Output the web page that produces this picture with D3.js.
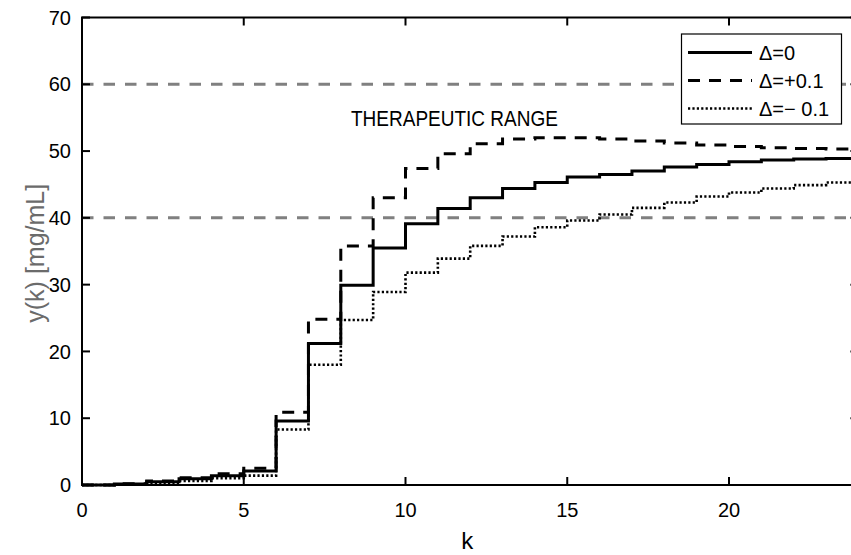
<!DOCTYPE html>
<html lang="en">
  <head>
    <meta charset="UTF-8" />
    <title>y(k) therapeutic range</title>
    <style>
      html, body { margin: 0; padding: 0; background: #fff; }
      svg { display: block; font-family: "Liberation Sans", Arial, sans-serif; }
    </style>
  </head>
  <body>
    <div id="chart"></div>
    <script src="https://d3js.org/d3.v7.min.js"></script>
    <script>
      // step values y(k), k = 0..23 (each held until k+1)
      const yNominal = [0, 0.15, 0.5, 0.95, 1.4, 2.1, 9.6, 21.2, 29.9, 35.5, 39.1, 41.4, 43.0, 44.4,
                        45.3, 46.1, 46.5, 47.0, 47.6, 48.0, 48.4, 48.65, 48.8, 48.9];
      const yPlus = [0, 0.2, 0.6, 1.1, 1.7, 2.5, 10.9, 24.8, 35.8, 43.0, 47.4, 49.6, 51.1, 51.8,
                     52.0, 52.0, 51.8, 51.5, 51.2, 50.9, 50.7, 50.5, 50.4, 50.3];
      const yMinus = [0, 0.1, 0.3, 0.6, 1.0, 1.4, 8.3, 18.0, 24.7, 28.9, 31.8, 33.9, 35.8, 37.2,
                      38.6, 39.6, 40.5, 41.5, 42.3, 43.2, 43.8, 44.4, 44.9, 45.3];
      const seriesNames = ["\u0394=0", "\u0394=+0.1", "\u0394=\u2212 0.1"];
      const rangeLimits = [40, 60];
      const xTicks = [0, 5, 10, 15, 20];
      const yTicks = [0, 10, 20, 30, 40, 50, 60, 70];

      const width = 851, height = 555;
      const pLeft = 82, pTop = 17.5, pRight = 858.4, pBottom = 485;

      const x = d3.scaleLinear().domain([0, 24]).range([pLeft, pRight]);
      const y = d3.scaleLinear().domain([0, 70]).range([pBottom, pTop]);

      const svg = d3.select("#chart").append("svg")
        .attr("width", width)
        .attr("height", height);

      // therapeutic range limits
      svg.selectAll("line.limit")
        .data(rangeLimits)
        .join("line")
        .attr("class", "limit")
        .attr("x1", pLeft).attr("x2", pRight)
        .attr("y1", d => y(d)).attr("y2", d => y(d))
        .attr("stroke", "#808080")
        .attr("stroke-width", 3)
        .attr("stroke-dasharray", "11.5,10");

      const stairs = d3.line()
        .x(d => x(d[0]))
        .y(d => y(d[1]))
        .curve(d3.curveStepAfter);

      const toPoints = vals => {
        const pts = vals.map((v, k) => [k, v]);
        pts.push([24, vals[vals.length - 1]]);
        return pts;
      };

      const series = [
        { name: seriesNames[0], values: yNominal, dash: null, w: 3 },
        { name: seriesNames[1], values: yPlus, dash: "12,9", w: 3 },
        { name: seriesNames[2], values: yMinus, dash: "2.2,2.2", w: 2.6 }
      ];

      svg.append("g")
        .selectAll("path")
        .data(series)
        .join("path")
        .attr("fill", "none")
        .attr("stroke", "#000")
        .attr("stroke-width", d => d.w)
        .attr("stroke-dasharray", d => d.dash)
        .attr("d", d => stairs(toPoints(d.values)));

      // axes box with inward ticks
      const tickLen = 8;
      const axisG = svg.append("g").attr("stroke", "#000").attr("stroke-width", 2);
      axisG.append("rect")
        .attr("x", pLeft).attr("y", pTop)
        .attr("width", pRight - pLeft).attr("height", pBottom - pTop)
        .attr("fill", "none");
      xTicks.forEach(t => {
        axisG.append("line").attr("x1", x(t)).attr("x2", x(t)).attr("y1", pBottom).attr("y2", pBottom - tickLen);
        axisG.append("line").attr("x1", x(t)).attr("x2", x(t)).attr("y1", pTop).attr("y2", pTop + tickLen);
      });
      yTicks.forEach(t => {
        axisG.append("line").attr("x1", pLeft).attr("x2", pLeft + tickLen).attr("y1", y(t)).attr("y2", y(t));
        axisG.append("line").attr("x1", pRight).attr("x2", pRight - tickLen).attr("y1", y(t)).attr("y2", y(t));
      });

      svg.append("g")
        .selectAll("text")
        .data(xTicks)
        .join("text")
        .attr("x", d => x(d))
        .attr("y", 510)
        .attr("dy", "0.36em")
        .attr("text-anchor", "middle")
        .attr("font-size", 20)
        .text(d => d);

      svg.append("g")
        .selectAll("text")
        .data(yTicks)
        .join("text")
        .attr("x", pLeft - 11)
        .attr("y", d => y(d))
        .attr("dy", "0.36em")
        .attr("text-anchor", "end")
        .attr("font-size", 20)
        .text(d => d);

      svg.append("text")
        .attr("x", (pLeft + pRight) / 2 - 3)
        .attr("y", 549)
        .attr("text-anchor", "middle")
        .attr("font-size", 24)
        .text("k");

      svg.append("text")
        .attr("transform", `translate(44,${(pTop + pBottom) / 2 + 2}) rotate(-90)`)
        .attr("text-anchor", "middle")
        .attr("font-size", 25)
        .attr("fill", "#6b6b6b")
        .text("y(k) [mg/mL]");

      svg.append("text")
        .attr("transform", "translate(351,125.5) scale(1,1.15)")
        .attr("font-size", 19)
        .text("THERAPEUTIC RANGE");

      // legend
      const lg = svg.append("g");
      lg.append("rect")
        .attr("x", 681.5).attr("y", 34)
        .attr("width", 160).attr("height", 90)
        .attr("fill", "#fff")
        .attr("stroke", "#000")
        .attr("stroke-width", 1.2);
      series.forEach((s, i) => {
        const ly = 52.5 + i * 28;
        lg.append("line")
          .attr("x1", 688).attr("x2", 752)
          .attr("y1", ly).attr("y2", ly)
          .attr("stroke", "#000")
          .attr("stroke-width", s.w)
          .attr("stroke-dasharray", s.dash);
        lg.append("text")
          .attr("x", 759)
          .attr("y", ly)
          .attr("dy", "0.36em")
          .attr("font-size", 20)
          .text(s.name);
      });
    </script>
  </body>
</html>
